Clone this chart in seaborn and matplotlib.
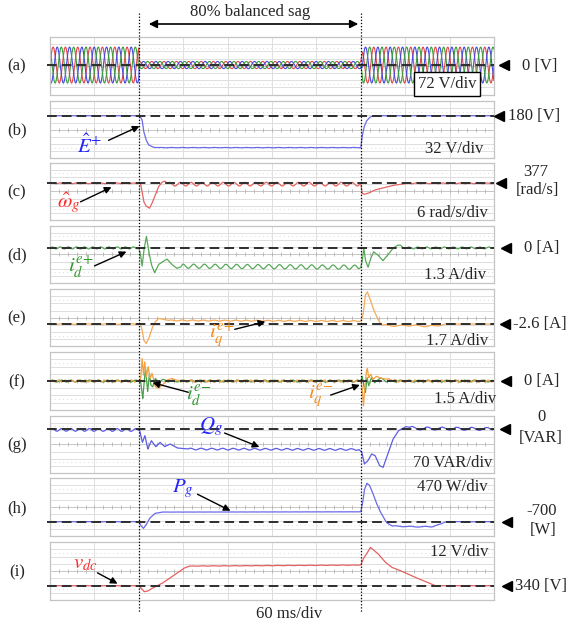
import numpy as np
import matplotlib
matplotlib.use("Agg")
import matplotlib.pyplot as plt
import seaborn as sns
from matplotlib.lines import Line2D

sns.set_theme(style="white")
plt.rcParams['font.family'] = ['Liberation Serif', 'DejaVu Serif']
plt.rcParams['mathtext.fontset'] = 'stix'

# ---------------- data (time in ms) ----------------
t_sag_start = 120.0
t_sag_end = 420.0
ms_per_div = 60
f_grid_hz = 60.0

# (a) grid phase voltage peak envelope [V]
va_env_t = [0, 120, 120.5, 420, 423, 600]
va_env_v = [180, 180, 36, 36, 180, 180]

# (b) E+ [V]
e_t = [0, 121, 124.5, 126.7, 129.9, 133.4, 140, 146, 420, 421.8, 424.5, 427.6, 432.1, 436.5, 600]
e_v = [180, 180, 161, 109, 72, 50, 39, 38, 38, 87, 131, 156, 173, 180, 180]
e_ripple = [(146, 420, 0.8, 14.5)]

# (c) omega_g [rad/s]
w_t = [0, 122.3, 124.5, 126.7, 129.9, 134.4, 137.9, 141.4, 146.7, 151.3, 154.7, 160, 417, 420,
       421.8, 424.5, 429.8, 438.7, 447.6, 461, 478.9, 492.3, 600]
w_v = [377, 377, 370, 361.7, 358, 356.2, 360.3, 365.9, 374.2, 377.8, 378.9, 376.3, 376.3, 377,
       368.7, 367.8, 368.7, 371.4, 372.8, 375, 376.7, 377, 377]
w_ripple = [(0, 120, 0.3, 11.0), (158, 420, 1.5, 14.5), (480, 600, 0.3, 12.0)]

# (d) i_d^{e+} [A]
id_t = [0, 120, 122.3, 124.5, 126.7, 130.3, 133.4, 137, 141.4, 146.7, 158, 164.7, 171.4, 180, 420,
        421.8, 424.1, 426.2, 429.8, 433.4, 437.4, 443.2, 449.9, 456.5, 463.2, 469.9, 480, 600]
id_v = [0, 0, -1.2, -3.3, -0.6, 2.1, -0.6, -3.0, -4.5, -3.0, -2.0, -3.0, -3.7, -3.3, -3.5,
        -2.5, -0.1, -2.2, -3.5, -1.9, -0.7, -1.3, -2.3, -1.3, -0.1, 0.5, 0, 0]
id_ripple = [(0, 120, 0.18, 11.0), (176, 420, 0.38, 14.5), (470, 600, 0.16, 12.0)]

# (e) i_q^{e+} [A]
iq_t = [0, 122.3, 124.5, 126.7, 129.9, 133.4, 137.9, 142.3, 146.7, 153.4, 160, 420, 423.1, 426.2,
        428.9, 432.1, 436.5, 442.3, 447.6, 461, 492.3, 510, 532.4, 541.3, 550, 600]
iq_v = [-2.6, -2.6, -4.0, -6.4, -7.2, -6.0, -3.6, -2.05, -1.26, -1.5, -1.73, -1.9, -0.4, 4.3,
        5.0, 3.5, 1.2, -1.2, -2.76, -3.0, -2.9, -3.15, -2.76, -2.5, -2.6, -2.6]
iq_ripple = [(0, 120, 0.08, 12.0), (160, 420, 0.12, 14.5), (450, 540, 0.15, 20.0)]

# (f) i_q^{e-} (orange) and i_d^{e-} (green) [A]
iqn_t = [0, 122.3, 124.5, 126.3, 128, 130.3, 132.6, 135.2, 137.9, 142.3, 146.7, 152.1, 158, 164.7,
         173, 420, 421.8, 423.6, 425.3, 427.6, 428.9, 430.7, 433.4, 436.5, 441, 447.6, 456.5, 470, 600]
iqn_v = [0, 0, 4.7, 1.25, 4.0, 0.9, 3.0, 0.55, 1.6, -1.2, -1.5, -0.8, 0.2, 0.55,
         0, 0, -1.4, -5.2, -1.4, 2.1, 2.6, 0.7, 1.4, 0.35, 1.0, 0.55, 0.35, 0, 0]
iqn_ripple = [(0, 121, 0.2, 9.0), (170, 420, 0.2, 9.0), (455, 600, 0.2, 9.0)]
idn_t = [0, 122.3, 123.6, 125.4, 127.6, 129, 130.7, 132, 134.4, 136.2, 138.8, 142.3, 146.7, 151.3,
         160, 420, 421.8, 424.1, 426.2, 428.5, 430.7, 434.3, 438.7, 445.4, 455, 600]
idn_v = [0, 0, -1.4, -3.6, 0.55, 2.6, -0.1, -2.2, 1.6, -0.8, -1.2, 0.55, -0.3, 0.2,
         0, 0, 1.0, -1.0, -2.4, 0.7, -1.0, 0.7, -0.35, 0.55, 0, 0]
idn_ripple = [(0, 121, 0.2, 12.5), (150, 420, 0.2, 12.5), (445, 600, 0.2, 12.5)]

# (g) Q_g [VAR]
q_t = [0, 121, 124.9, 128.3, 132.2, 137, 142.9, 148.7, 155, 162.3, 172, 186.6, 417.5, 421.4,
       424.9, 429.7, 434.6, 439.4, 445.3, 450.2, 456.5, 463.7, 471, 480.8, 493, 600]
q_v = [-8, -10, -130, -65, -195, -114, -172, -130, -172, -146, -185, -195, -200, -227,
       -341, -308, -243, -260, -357, -373, -243, -97, -16, 23, 5, 0]
q_ripple = [(0, 121, 13, 12.5), (186, 418, 8, 14.5), (485, 600, 14, 20.0)]

# (h) P_g [W]
p_t = [0, 120, 122.4, 126.3, 129.7, 134.6, 141.8, 151.6, 420, 422.4, 424.8, 428.2, 431.6, 435.5,
       440.4, 445.2, 450.1, 455, 462.2, 491.3, 515.6, 527.7, 535, 600]
p_v = [-700, -700, -918, -1136, -918, -482, -155, -68, -50, 499, 1371, 1807, 1698, 1262,
       608, 63, -373, -765, -983, -1027, -1027, -853, -700, -700]
p_ripple = [(0, 120, 8, 12.0), (152, 420, 6, 14.5), (462, 525, 25, 20.0), (535, 600, 8, 12.0)]

# (i) v_dc [V]
v_t = [0, 120, 123.9, 127.3, 132.1, 137, 146.7, 151.6, 166, 180.7, 188, 418.5, 420, 423.4, 428.3,
       433, 442.8, 452.5, 462, 471.9, 481.6, 491.3, 505.9, 520.5, 600]
v_v = [340, 340, 335, 330, 331, 335, 341, 344, 356, 369, 372.8, 374.5, 374.5, 385, 394,
       404, 394, 380, 370.6, 366, 360.6, 355, 347.8, 340, 340]
v_ripple = [(188, 418, 0.3, 14.5)]

# per-panel reference levels and scales
panel_letters = ['(a)', '(b)', '(c)', '(d)', '(e)', '(f)', '(g)', '(h)', '(i)']
panel_ref = [0, 180, 377, 0, -2.6, 0, 0, -700, 340]
panel_scale = [72, 32, 6, 1.3, 1.7, 1.5, 70, 470, 12]
scale_text = ['72 V/div', '32 V/div', '6 rad/s/div', '1.3 A/div', '1.7 A/div',
              '1.5 A/div', '70 VAR/div', '470 W/div', '12 V/div']

# ---------------- layout (pixels) ----------------
W, H = 568, 626
def fx(px): return px / W
def fy(py): return 1 - py / H

panel_top_px = [37, 101, 162.7, 225.7, 289, 352.3, 415.7, 478.3, 542.3]
panel_h_px = 57.5
left_px, right_px = 50, 494
ref_off_div = [0.1, 1.95, 1.13, 0.91, -0.88, 0.0, 2.15, -2.04, -2.04]
tri_x = [613, 607, 609, 616, 615, 616, 615, 618, 618]

t = np.linspace(0, 600, 6001)

def ripple(tt, segs):
    r = np.zeros_like(tt)
    for (t0, t1, amp, per) in segs:
        m = (tt >= t0) & (tt <= t1)
        w = np.clip((tt[m] - t0) / 3.0, 0, 1) * np.clip((t1 - tt[m]) / 3.0, 0, 1)
        r[m] += w * amp * np.sin(2 * np.pi * (tt[m] - t0) / per)
    return r

def trace(kt, kv, segs):
    return np.interp(t, kt, kv) + ripple(t, segs)

fig = plt.figure(figsize=(W / 100, H / 100), dpi=100)
axes = []
for k in range(9):
    b = fy(panel_top_px[k] + panel_h_px)
    ax = fig.add_axes([fx(left_px), b, fx(right_px) - fx(left_px), panel_h_px / H])
    ref, s, off = panel_ref[k], panel_scale[k], ref_off_div[k]
    center = ref - off * s
    ax.set_xlim(0, 600)
    ax.set_ylim(center - 4 * s, center + 4 * s)
    ax.set_xticks(np.arange(0, 601, ms_per_div))
    ax.set_yticks(center + s * np.arange(-3, 4))
    ax.grid(True, color='#dedede', lw=0.7)
    ax.tick_params(length=0, labelleft=False, labelbottom=False)
    for sp in ax.spines.values():
        sp.set_color('#c4c4c4')
        sp.set_linewidth(0.9)
    for kk in (-2.5, 2.5):
        ax.axhline(center + kk * s, color='#d0d0d0', lw=0.6, ls=(0, (1, 4)), zorder=0.5)
    ax.axhline(center, color='#c8c8c8', lw=0.7, zorder=0.6)
    tk = np.arange(0, 601, ms_per_div / 5)
    ax.plot(tk, np.full_like(tk, center), ls='none', marker='|', ms=3, mew=0.6,
            color='#b4b4b4', zorder=0.7)
    ax.plot([-4, 600], [ref, ref], color='#2e2e2e', lw=1.4, ls=(0, (5, 2.6)), zorder=5,
            clip_on=False)
    ax.plot([tri_x[k]], [ref], marker='<', color='black', ms=6.5, clip_on=False, zorder=6)
    fig.text(fx(17), fy(panel_top_px[k] + panel_h_px / 2 + 1), panel_letters[k],
             fontsize=12, ha='center', va='center')
    axes.append(ax)

lw = 0.9
env = np.interp(t, va_env_t, va_env_v)
phase_cols = ['#e04848', '#4646e0', '#3a9e3a']
for ph, c in enumerate(phase_cols):
    va = env * np.sin(2 * np.pi * f_grid_hz * t / 1000 - ph * 2 * np.pi / 3)
    sns.lineplot(x=t, y=va, ax=axes[0], color=c, lw=0.8, estimator=None, sort=False, zorder=2)
sns.lineplot(x=t, y=trace(e_t, e_v, e_ripple), ax=axes[1], color='#6a6ae8', lw=lw, estimator=None, sort=False)
sns.lineplot(x=t, y=trace(w_t, w_v, w_ripple), ax=axes[2], color='#e46464', lw=lw, estimator=None, sort=False)
sns.lineplot(x=t, y=trace(id_t, id_v, id_ripple), ax=axes[3], color='#58a858', lw=lw, estimator=None, sort=False)
sns.lineplot(x=t, y=trace(iq_t, iq_v, iq_ripple), ax=axes[4], color='#f5aa58', lw=lw, estimator=None, sort=False)
sns.lineplot(x=t, y=trace(idn_t, idn_v, idn_ripple), ax=axes[5], color='#4aa04a', lw=lw, estimator=None, sort=False)
sns.lineplot(x=t, y=trace(iqn_t, iqn_v, iqn_ripple), ax=axes[5], color='#f3a040', lw=lw, estimator=None, sort=False)
sns.lineplot(x=t, y=trace(q_t, q_v, q_ripple), ax=axes[6], color='#5c5ce4', lw=lw, estimator=None, sort=False)
sns.lineplot(x=t, y=trace(p_t, p_v, p_ripple), ax=axes[7], color='#6a6ae8', lw=lw, estimator=None, sort=False)
sns.lineplot(x=t, y=trace(v_t, v_v, v_ripple), ax=axes[8], color='#e46060', lw=lw, estimator=None, sort=False)
for ax in axes:
    ax.set_xlabel('')
    ax.set_ylabel('')

scale_pos = [(447, 84), (483, 149), (488, 213), (486, 275), (488, 341), (496, 399),
             (492, 463), (488, 487), (488, 552)]
for k, (px, py) in enumerate(scale_pos):
    if k == 0:
        fig.text(fx(px), fy(py), scale_text[k], fontsize=12, ha='center', va='center',
                 bbox=dict(boxstyle='square,pad=0.25', fc='white', ec='black', lw=1.0), zorder=10)
    else:
        fig.text(fx(px), fy(py), scale_text[k], fontsize=12, ha='right', va='center')

rk = dict(fontsize=12, va='center')
fig.text(fx(522), fy(66), '0 [V]', ha='left', **rk)
fig.text(fx(508), fy(116), '180 [V]', ha='left', **rk)
fig.text(fx(536), fy(172), '377', ha='center', **rk)
fig.text(fx(537), fy(190), '[rad/s]', ha='center', **rk)
fig.text(fx(524), fy(248), '0 [A]', ha='left', **rk)
fig.text(fx(513), fy(324), '-2.6 [A]', ha='left', **rk)
fig.text(fx(524), fy(381), '0 [A]', ha='left', **rk)
fig.text(fx(541), fy(417), '0', ha='center', **rk)
fig.text(fx(541), fy(438), '[VAR]', ha='center', **rk)
fig.text(fx(542), fy(511), '-700', ha='center', **rk)
fig.text(fx(543), fy(530), '[W]', ha='center', **rk)
fig.text(fx(515), fy(586), '340 [V]', ha='left', **rk)

for ts in (t_sag_start, t_sag_end):
    xf = fx(left_px) + ts / 600 * (fx(right_px) - fx(left_px))
    fig.add_artist(Line2D([xf, xf], [fy(13), fy(612)], transform=fig.transFigure,
                          color='black', lw=0.9, ls=(0, (1, 1.5))))

fig.text(fx(250), fy(12), '80% balanced sag', fontsize=12, ha='center', va='center')
fig.add_artist(matplotlib.patches.FancyArrowPatch((fx(146), fy(24)), (fx(361), fy(24)),
               transform=fig.transFigure, arrowstyle='<|-|>', mutation_scale=12,
               color='black', lw=1.2))
fig.text(fx(289), fy(614), '60 ms/div', fontsize=12, ha='center', va='center')

labels = [
    (r'$\hat{E}^{{+}}$', '#2424ff', (89, 146), (106, 141.5), (142, 125)),
    (r'$\hat{\omega}_{g}$', '#ff2a2a', (69, 203), (78, 203), (114, 186)),
    (r'$i_{d}^{e{+}}$', '#2e9a2e', (81, 267), (92, 267), (129, 250.5)),
    (r'$i_{q}^{e{+}}$', '#f28a1e', (222, 335), (232, 330), (268, 321)),
    (r'$i_{d}^{e{-}}$', '#2e9a2e', (199, 396), (191, 393), (150, 382)),
    (r'$i_{q}^{e{-}}$', '#f28a1e', (321, 396), (328, 396), (362.5, 384)),
    (r'$Q_{g}$', '#2424ff', (211, 427), (222, 432), (262, 448)),
    (r'$P_{g}$', '#2424ff', (183, 489), (195, 493), (233, 512)),
    (r'$v_{dc}$', '#ff2a2a', (85, 564), (95, 571.5), (120, 585)),
]
for txt, col, (tx, ty), tail, head in labels:
    fig.text(fx(tx), fy(ty), txt, color=col, fontsize=15, ha='center', va='center', zorder=10)
    fig.add_artist(matplotlib.patches.FancyArrowPatch((fx(tail[0]), fy(tail[1])),
                   (fx(head[0]), fy(head[1])), transform=fig.transFigure,
                   arrowstyle='-|>', mutation_scale=10, color='black', lw=1.0, zorder=11))

fig.savefig('out.png', dpi=100)
